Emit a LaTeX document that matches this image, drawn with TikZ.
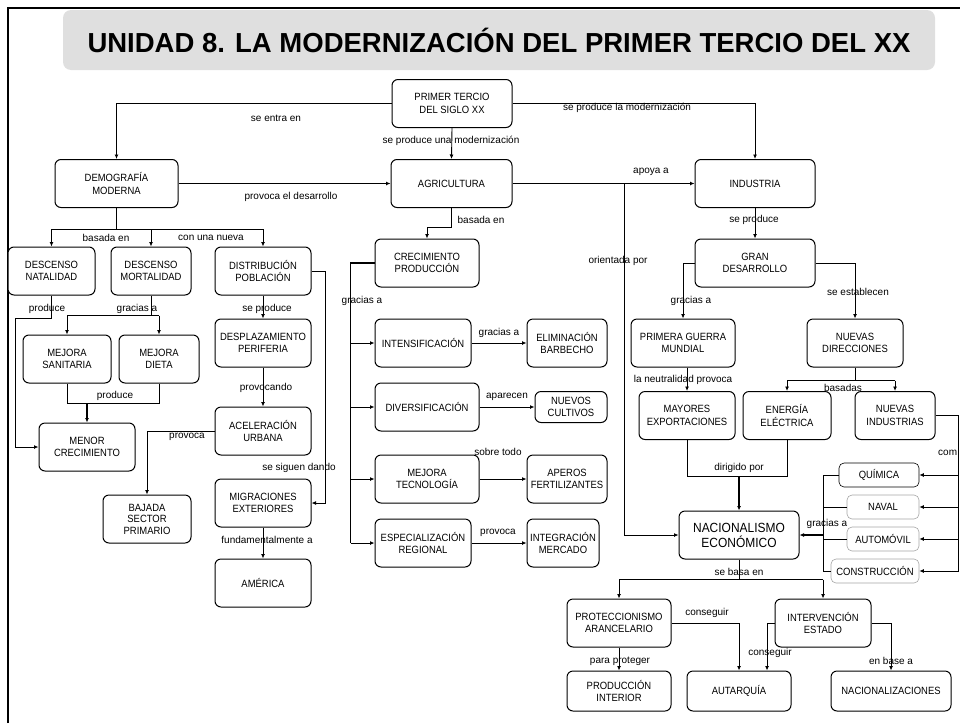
\documentclass[tikz,border=0pt]{standalone}
\usepackage{fontspec}
\setmainfont{Liberation Sans}
\newfontfamily\boxfont{Liberation Sans}[FakeStretch=0.9]
\usetikzlibrary{arrows.meta}

\begin{document}
\begin{tikzpicture}[
  x=1pt, y=-1pt,
  box/.style={draw, rounded corners=6pt, minimum width=#1, minimum height=48,
              align=center, fill=white, line width=1pt, inner sep=1pt,
              font=\boxfont\fontsize{10.5}{12.5}\selectfont},
  box/.default=96,
  sbox/.style={box=#1, minimum height=24, rounded corners=5pt,
               draw=gray!70, line width=0.6pt},
  sbox/.default=72,
  lbl/.style={inner sep=0pt, font=\fontsize{10}{12}\selectfont},
  line/.style={line width=0.9pt},
  thickline/.style={line width=1.8pt},
  arr/.style={-{Latex[length=4.5pt,width=4pt]}, line width=0.9pt}
]
\useasboundingbox (0,0) rectangle (960,723);
\draw[line width=2pt] (8,723) -- (8,8) -- (960,8);

% title
\node[fill=gray!25, rounded corners=8pt, minimum width=872, minimum height=60,
      font=\fontsize{27.5}{30}\bfseries] (title) at (499,40)
      {UNIDAD 8. LA MODERNIZACIÓN DEL PRIMER TERCIO DEL XX};

% main nodes
\node[box=120] (primer) at (452,103.5) {PRIMER TERCIO\\DEL SIGLO XX};
\node[box=123] (demo)   at (116.5,183.5) {DEMOGRAFÍA\\MODERNA};
\node[box=121] (agri)   at (451.5,183.5) {AGRICULTURA};
\node[box=120] (indus)  at (755,183.5) {INDUSTRIA};

% demografia
\node[box=87] (natal)   at (51.5,271) {DESCENSO\\NATALIDAD};
\node[box=80] (mortal)  at (151,271) {DESCENSO\\MORTALIDAD};
\node[box]    (distrib) at (263,271) {DISTRIBUCIÓN\\POBLACIÓN};
\node[box=88] (sanit)   at (67,359) {MEJORA\\SANITARIA};
\node[box=80] (dieta)   at (159,359) {MEJORA\\DIETA};
\node[box]    (despl)   at (263,343) {DESPLAZAMIENTO\\PERIFERIA};
\node[box]    (acel)    at (263,431) {ACELERACIÓN\\URBANA};
\node[box]    (menor)   at (87,447) {MENOR\\CRECIMIENTO};
\node[box=88, font=\boxfont\fontsize{10.5}{11.5}\selectfont] (bajada) at (147,519) {BAJADA\\SECTOR\\PRIMARIO};
\node[box]    (migr)    at (263,503) {MIGRACIONES\\EXTERIORES};
\node[box]    (amer)    at (263,583) {AMÉRICA};

% agricultura
\node[box=104] (crec)   at (427,263) {CRECIMIENTO\\PRODUCCIÓN};
\node[box]     (inten)  at (423,343) {INTENSIFICACIÓN};
\node[box=80]  (elim)   at (567,343) {ELIMINACIÓN\\BARBECHO};
\node[box=104] (diver)  at (427,407) {DIVERSIFICACIÓN};
\node[box=72, minimum height=31] (cultiv) at (571,407) {NUEVOS\\CULTIVOS};
\node[box=104] (tecno)  at (427,479) {MEJORA\\TECNOLOGÍA};
\node[box=80]  (aperos) at (567,479) {APEROS\\FERTILIZANTES};
\node[box]     (espec)  at (423,543) {ESPECIALIZACIÓN\\REGIONAL};
\node[box=72]  (integ)  at (563,543) {INTEGRACIÓN\\MERCADO};

% industria
\node[box=120] (gran)   at (755,263) {GRAN\\DESARROLLO};
\node[box=104] (guerra) at (683,343) {PRIMERA GUERRA\\MUNDIAL};
\node[box]     (direc)  at (855,343) {NUEVAS\\DIRECCIONES};
\node[box]     (mayor)  at (687,415.5) {MAYORES\\EXPORTACIONES};
\node[box=88]  (energ)  at (787,415.5) {ENERGÍA\\ELÉCTRICA};
\node[box=80]  (nuevas) at (895,415.5) {NUEVAS\\INDUSTRIAS};
\node[sbox=80, draw=black] (quim) at (879,475) {QUÍMICA};
\node[sbox]    (naval)  at (883,507) {NAVAL};
\node[sbox]    (autom)  at (883,539) {AUTOMÓVIL};
\node[sbox=88] (constr) at (875,571) {CONSTRUCCIÓN};
\node[box=120, font=\boxfont\fontsize{13.3}{15}\selectfont] (nacio) at (739,535) {NACIONALISMO\\ECONÓMICO};
\node[box=104] (protec) at (619,623) {PROTECCIONISMO\\ARANCELARIO};
\node[box]     (interv) at (823,623) {INTERVENCIÓN\\ESTADO};
\node[box=104, minimum height=40] (prodint) at (619,691) {PRODUCCIÓN\\INTERIOR};
\node[box=104, minimum height=40] (autar)   at (739,691) {AUTARQUÍA};
\node[box=120, minimum height=40] (nacz)    at (891,691) {NACIONALIZACIONES};

% connectors, top
\draw[arr] (primer.west) -| (demo.north);
\draw[arr] (primer.south) -- (agri.north);
\draw[arr] (primer.east) -| (indus.north);
\draw[arr] (demo.east) -- (agri.west);
\draw[arr] (agri.east) -- (indus.west);
\coordinate (orient) at (624,183.5);
\draw[arr] (orient) |- (nacio.west);

% demografia
\draw[thickline] (demo.south) -- ++(0,21) coordinate (dbar);
\draw[line] (natal.north |- dbar) -- (distrib.north |- dbar);
\foreach \n in {natal,mortal,distrib}
  \draw[arr] (\n.north |- dbar) -- (\n.north);
\draw[arr] (natal.south) -- ++(0,23) -| ++(-36.5,0) |- (menor.west);
\draw[line] (mortal.south) -- ++(0,20) coordinate (mbar);
\draw[line] (sanit.north |- mbar) -- (dieta.north |- mbar);
\foreach \n in {sanit,dieta}
  \draw[arr] (\n.north |- mbar) -- (\n.north);
\draw[line] (sanit.south) -- ++(0,20) coordinate (sbar) -| (dieta.south);
\draw[arr, thickline] (menor.north |- sbar) -- (menor.north);
\draw[arr] (distrib) -- (despl);
\draw[arr] (despl) -- (acel);
\draw[arr] (acel.west) -| (bajada.north);
\draw[arr] (distrib.east) -- ++(14,0) |- (migr.east);
\draw[arr] (migr) -- (amer);

% agricultura
\draw[arr] (agri.south) -- ++(0,19) -| (crec.north);
\draw[thickline] (crec.west) -- ++(-24,0) coordinate (ctop) -- (ctop |- espec.west);
\foreach \n in {inten,diver,tecno,espec}
  \draw[arr] (ctop |- \n.west) -- (\n.west);
\draw[arr] (inten) -- (elim);
\draw[arr] (diver) -- (cultiv);
\draw[arr] (tecno) -- (aperos);
\draw[arr] (espec) -- (integ);

% industria
\draw[arr] (indus) -- (gran);
\draw[arr] (gran.west) -| (guerra.north);
\draw[arr] (gran.east) -| (direc.north);
\draw[arr] (mayor.north |- guerra.south) -- (mayor.north);
\draw[line] (direc.south) -- ++(0,13) coordinate (nbar);
\draw[line] (energ.north |- nbar) -- (nuevas.north |- nbar);
\foreach \n in {energ,nuevas}
  \draw[arr] (\n.north |- nbar) -- (\n.north);
\draw[line] (mayor.south) -- ++(0,36) coordinate (xbar) -| (energ.south);
\draw[arr, thickline] (nacio.north |- xbar) -- (nacio.north);
\draw[thickline] (nuevas.east) -- ++(23,0) coordinate (cright) -- (cright |- constr.east);
\foreach \n in {quim,naval,autom,constr}
  \draw[arr] (cright |- \n.east) -- (\n.east);
\coordinate (gleft) at (823,535);
\draw[line] (quim.west) -| (gleft) |- (constr.west);
\draw[line] (naval.west) -- (naval.west -| gleft);
\draw[line] (autom.west) -- (autom.west -| gleft);
\draw[arr, thickline] (gleft) -- (nacio.east);
\draw[line] (nacio.south) -- ++(0,20) coordinate (pbar);
\draw[line] (protec.north |- pbar) -- (interv.north |- pbar);
\foreach \n in {protec,interv}
  \draw[arr] (\n.north |- pbar) -- (\n.north);
\draw[arr] (protec) -- (prodint);
\draw[arr] (protec.east) -| (autar.north);
\draw[arr] (interv.west) -| ([xshift=28pt]autar.north);
\draw[arr] (interv.east) -| (nacz.north);

% labels
\node[lbl] (l1)  at (276,118) {se entra en};
\node[lbl] (l2)  at (451,141) {se produce una modernización};
\node[lbl] (l3)  at (627,108) {se produce la modernización};
\node[lbl] (l4)  at (291,197) {provoca el desarrollo};
\node[lbl] (l5)  at (106,238) {basada en};
\node[lbl] (l6)  at (211,238) {con una nueva};
\node[lbl] (l7)  at (47,309) {produce};
\node[lbl] (l8)  at (137,309) {gracias a};
\node[lbl] (l9)  at (115,396) {produce};
\node[lbl] (l10) at (267,309) {se produce};
\node[lbl] (l11) at (266,388) {provocando};
\node[lbl] (l12) at (187,437) {provoca};
\node[lbl] (l13) at (299,468) {se siguen dando};
\node[lbl] (l14) at (267,540) {fundamentalmente a};
\node[lbl] (l15) at (481,220) {basada en};
\node[lbl] (l16) at (362,301) {gracias a};
\node[lbl] (l17) at (499,333) {gracias a};
\node[lbl] (l18) at (507,397) {aparecen};
\node[lbl] (l19) at (498,452) {sobre todo};
\node[lbl] (l20) at (498,533) {provoca};
\node[lbl] (l21) at (651,172) {apoya a};
\node[lbl] (l22) at (618,261) {orientada por};
\node[lbl] (l23) at (754,220) {se produce};
\node[lbl] (l24) at (691,301) {gracias a};
\node[lbl] (l25) at (858,292) {se establecen};
\node[lbl] (l26) at (683,380) {la neutralidad provoca};
\node[lbl] (l27) at (843,388) {basadas};
\node[lbl] (l28) at (739,468) {dirigido por};
\node[lbl, anchor=west] (l29) at (938,453) {com};
\node[lbl] (l30) at (827,524) {gracias a};
\node[lbl] (l31) at (739,572) {se basa en};
\node[lbl] (l32) at (620,661) {para proteger};
\node[lbl] (l33) at (707,613) {conseguir};
\node[lbl] (l34) at (770,653) {conseguir};
\node[lbl] (l35) at (891,661) {en base a};
\end{tikzpicture}
\end{document}
